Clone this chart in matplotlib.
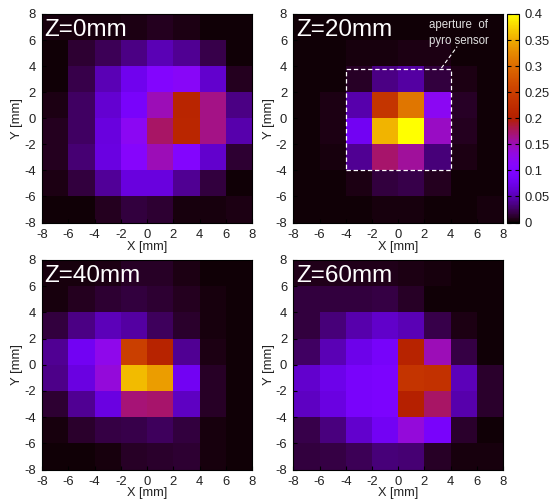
import numpy as np
import matplotlib
matplotlib.use("Agg")
import matplotlib.pyplot as plt

plt.rcParams['font.family'] = ['Liberation Sans', 'DejaVu Sans']
plt.rcParams['axes.unicode_minus'] = False

edges = [-8, -6, -4, -2, 0, 2, 4, 6, 8]
ticks = [-8, -6, -4, -2, 0, 2, 4, 6, 8]
cb_ticks = [0, 0.05, 0.1, 0.15, 0.2, 0.25, 0.3, 0.35, 0.4]
cb_labels = ['0', '0.05', '0.1', '0.15', '0.2', '0.25', '0.3', '0.35', '0.4']

# rows listed from top (Y = 6..8) to bottom (Y = -8..-6)
z0 = [[.004, .004, .004, .005, .008, .006, .003, .003],
      [.003, .013, .023, .035, .050, .040, .020, .003],
      [.003, .020, .050, .078, .105, .115, .060, .008],
      [.006, .026, .062, .090, .150, .210, .165, .035],
      [.008, .026, .068, .120, .175, .212, .165, .048],
      [.008, .030, .070, .110, .150, .105, .060, .013],
      [.005, .016, .042, .068, .068, .040, .016, .002],
      [.003, .003, .008, .016, .013, .004, .004, .005]]
z20 = [[.002, .002, .003, .003, .003, .003, .002, .002],
       [.002, .003, .004, .004, .005, .006, .003, .002],
       [.002, .002, .010, .035, .045, .016, .005, .002],
       [.002, .005, .047, .236, .308, .120, .010, .003],
       [.003, .006, .080, .355, .400, .145, .008, .002],
       [.002, .004, .040, .172, .158, .032, .006, .002],
       [.002, .002, .005, .016, .020, .008, .003, .002],
       [.002, .002, .003, .004, .004, .003, .002, .004]]
z40 = [[.004, .004, .005, .010, .010, .005, .003, .002],
       [.004, .008, .013, .016, .014, .008, .004, .002],
       [.016, .035, .052, .044, .024, .012, .004, .002],
       [.040, .080, .125, .250, .205, .040, .005, .002],
       [.036, .070, .135, .360, .340, .080, .010, .002],
       [.013, .040, .070, .170, .172, .056, .010, .003],
       [.004, .012, .018, .020, .024, .016, .004, .003],
       [.002, .003, .004, .010, .012, .013, .004, .003]]
z60 = [[.007, .007, .007, .007, .005, .004, .003, .002],
       [.016, .016, .017, .018, .010, .003, .003, .002],
       [.016, .032, .048, .058, .050, .020, .005, .002],
       [.025, .050, .075, .088, .205, .150, .018, .003],
       [.060, .075, .090, .095, .235, .230, .052, .012],
       [.055, .070, .090, .095, .200, .175, .048, .012],
       [.020, .033, .060, .082, .135, .090, .012, .003],
       [.016, .018, .022, .032, .030, .010, .004, .004]]
titles = ['Z=0mm', 'Z=20mm', 'Z=40mm', 'Z=60mm']
panels = [z0, z20, z40, z60]
boxes_px = [(42, 14, 252, 222.5), (293.3, 14, 503, 222.5),
            (42, 260, 252, 469.5), (293.3, 260, 503, 469.5)]
xlabel_pads = [0.3, 0.3, -0.6, -0.6]

W, H = 551, 499
fig = plt.figure(figsize=(W / 100, H / 100), dpi=100)

def px_axes(x0, y0, x1, y1):
    return fig.add_axes([x0 / W, 1 - y1 / H, (x1 - x0) / W, (y1 - y0) / H])

mesh = None
for data, title, box, xpad in zip(panels, titles, boxes_px, xlabel_pads):
    ax = px_axes(*box)
    ax.set_facecolor('black')
    mesh = ax.pcolormesh(edges, edges, np.array(data)[::-1], cmap='gnuplot',
                         vmin=0, vmax=0.4, linewidth=0, antialiased=False)
    ax.set_xlim(-8, 8)
    ax.set_ylim(-8, 8)
    ax.set_xticks(ticks)
    ax.set_yticks(ticks)
    ax.tick_params(direction='in', length=3, width=0.8, labelsize=9.4,
                   color='black', labelcolor='#222222', pad=4.4)
    ax.set_xlabel('X [mm]', fontsize=9.2, color='#222222', labelpad=xpad)
    ax.set_ylabel('Y [mm]', fontsize=9.4, color='#222222', labelpad=0.5)
    for s in ax.spines.values():
        s.set_linewidth(0.8)
    ax.text(-7.8, 7.63, title, color='white', fontsize=17.5, ha='left', va='top')
    if title == 'Z=20mm':
        ax.plot([-4, 4, 4, -4, -4], [-4, -4, 3.8, 3.8, -4], color='white',
                lw=0.9, ls=(0, (3.5, 2.2)))
        ax.plot([3.3, 4.5], [3.85, 5.5], color='white', lw=0.8, ls=(0, (3.5, 2.2)))
        ax.text(4.6, 7.15, 'aperture  of', color='#e0e0e0', fontsize=8.3,
                ha='center', va='center')
        ax.text(4.65, 5.95, 'pyro sensor', color='#e0e0e0', fontsize=8.3,
                ha='center', va='center')

cax = px_axes(507.3, 14, 518.7, 222.5)
cb = fig.colorbar(mesh, cax=cax)
cb.set_ticks(cb_ticks)
cb.set_ticklabels(cb_labels)
cb.ax.tick_params(direction='in', length=3, width=0.8, labelsize=9.4,
                  color='black', labelcolor='#222222', pad=4, left=True, right=True)
cb.outline.set_linewidth(0.8)

fig.savefig('out.png', dpi=100)
